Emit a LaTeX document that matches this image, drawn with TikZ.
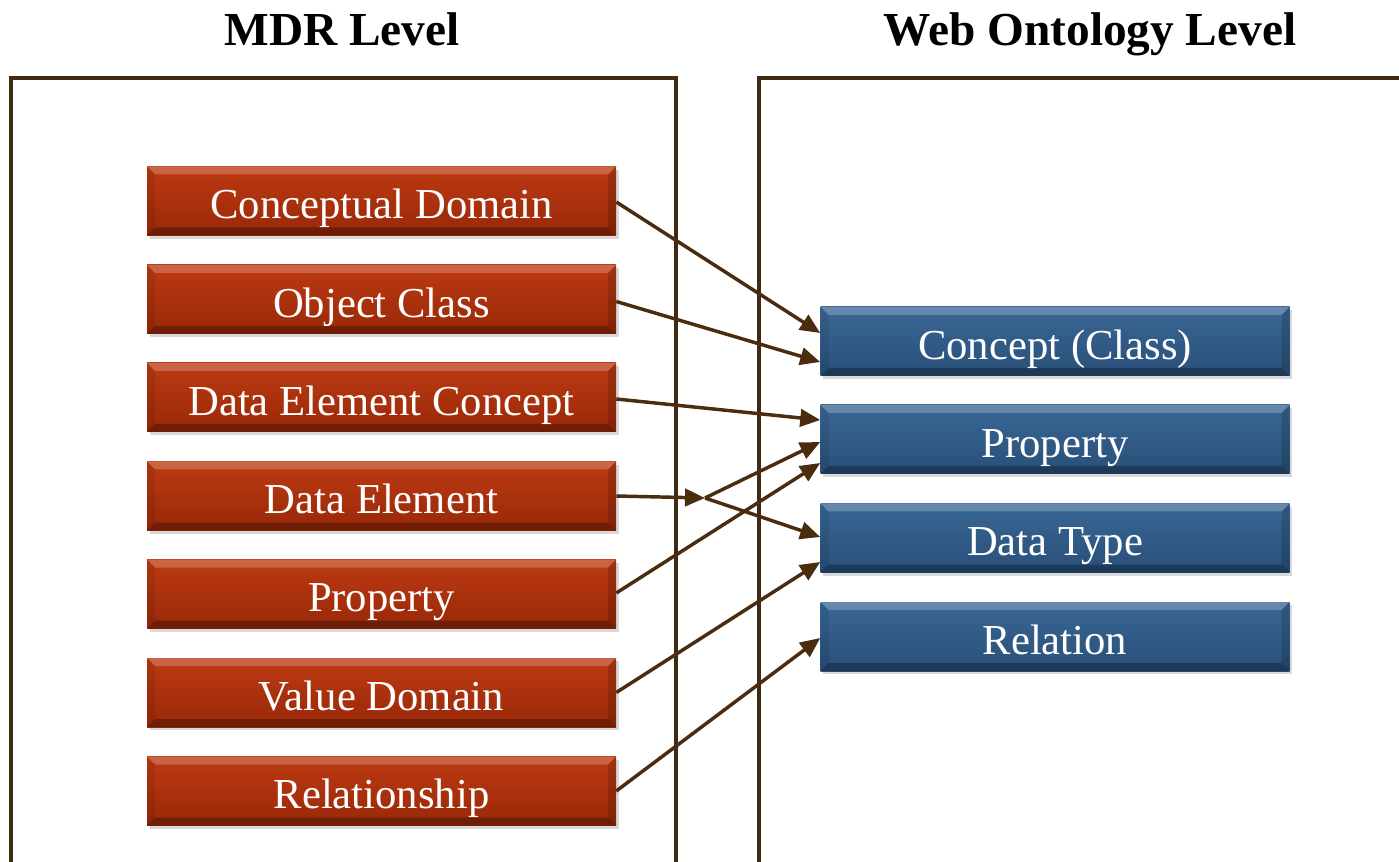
\documentclass[tikz,border=0pt]{standalone}
\usepackage{fontspec}
\setmainfont{Liberation Serif}
\usetikzlibrary{arrows.meta,shadows,calc}
\definecolor{framec}{HTML}{3F2A14}
\definecolor{arrowc}{HTML}{4A2C0E}
\definecolor{redtop}{HTML}{BC3A12}
\definecolor{redmid}{HTML}{B2320B}
\definecolor{redbot}{HTML}{992808}
\definecolor{bluetop}{HTML}{3A6795}
\definecolor{bluemid}{HTML}{2E5A86}
\definecolor{bluebot}{HTML}{284F78}
\tikzset{
  bevel/.style={path picture={
    \fill[white,opacity=0.22] (path picture bounding box.north west) -- (path picture bounding box.north east) -- ([xshift=-6pt,yshift=-6pt]path picture bounding box.north east) -- ([xshift=6pt,yshift=-6pt]path picture bounding box.north west) -- cycle;
    \fill[black,opacity=0.28] (path picture bounding box.south west) -- (path picture bounding box.south east) -- ([xshift=-6pt,yshift=6pt]path picture bounding box.south east) -- ([xshift=6pt,yshift=6pt]path picture bounding box.south west) -- cycle;
    \fill[black,opacity=0.15] (path picture bounding box.north east) -- (path picture bounding box.south east) -- ([xshift=-6pt,yshift=6pt]path picture bounding box.south east) -- ([xshift=-6pt,yshift=-6pt]path picture bounding box.north east) -- cycle;
    \fill[black,opacity=0.08] (path picture bounding box.north west) -- (path picture bounding box.south west) -- ([xshift=6pt,yshift=6pt]path picture bounding box.south west) -- ([xshift=6pt,yshift=-6pt]path picture bounding box.north west) -- cycle;
  }},
  mbox/.style={rectangle, inner sep=0pt, minimum width=351.75pt, minimum height=51.75pt,
    text=white, font=\fontsize{32pt}{36pt}\selectfont, text height=26.9pt, text depth=0pt,
    drop shadow={shadow xshift=2pt, shadow yshift=-2.5pt, opacity=0.3}, bevel},
  redbox/.style={mbox, top color=redtop, middle color=redmid, bottom color=redbot},
  bluebox/.style={mbox, top color=bluetop, middle color=bluemid, bottom color=bluebot},
  frame/.style={draw=framec, line width=2.4pt},
  conn/.style={draw=arrowc, line width=2.6pt, -{Triangle[length=15pt,width=13pt]}},
  title/.style={font=\bfseries\fontsize{35.5pt}{40pt}\selectfont, anchor=base}
}
\begin{document}
\begin{tikzpicture}[x=0.75pt,y=-0.75pt]
\useasboundingbox (0,0) rectangle (1399,862);
% titles
\node[title] (t1) at (342,46) {MDR Level};
\node[title] (t2) at (1090,46) {Web Ontology Level};
% frames
\draw[frame] (11,862) |- (676,78) -- (676,862);
\draw[frame] (759,862) |- (1399,78);
% MDR boxes
\node[redbox] (cd)  at (381.5,201)   {Conceptual Domain};
\node[redbox] (oc)  at (381.5,299.5) {Object Class};
\node[redbox] (dec) at (381.5,397.5) {Data Element Concept};
\node[redbox] (de)  at (381.5,496)   {Data Element};
\node[redbox] (pr)  at (381.5,594)   {Property};
\node[redbox] (vd)  at (381.5,692.5) {Value Domain};
\node[redbox] (rs)  at (381.5,791)   {Relationship};
% ontology boxes
\node[bluebox] (cc) at (1055,341.5) {Concept (Class)};
\node[bluebox] (op) at (1055,439.5) {Property};
\node[bluebox] (dt) at (1055,538)   {Data Type};
\node[bluebox] (rl) at (1055,636.5) {Relation};
% junction
\coordinate (j) at (705,498);
% connectors
\draw[conn] ($(cd.east)+(0,1)$)   -- ($(cc.west)+(0,-8.5)$);
\draw[conn] ($(oc.east)+(0,2)$)   -- ($(cc.west)+(0,20.5)$);
\draw[conn] ($(dec.east)+(0,1.5)$) -- ($(op.west)+(0,-19.5)$);
\draw[conn] (de.east) -- (j);
\draw[conn] (j) -- ($(op.west)+(0,2.5)$);
\draw[conn] (j) -- ($(dt.west)+(0,-1)$);
\draw[conn] ($(pr.east)+(0,-1)$)  -- ($(op.west)+(0,23.5)$);
\draw[conn] (vd.east) -- ($(dt.west)+(0,24)$);
\draw[conn] (rs.east) -- ($(rl.west)+(0,1.5)$);
\end{tikzpicture}
\end{document}
